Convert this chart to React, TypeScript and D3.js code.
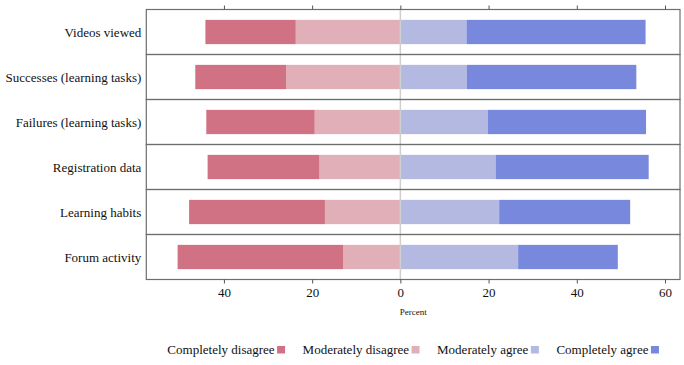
import { useEffect, useRef } from 'react';
import * as d3 from 'd3';

// Survey items, top to bottom
const categories: string[] = [
  'Videos viewed',
  'Successes (learning tasks)',
  'Failures (learning tasks)',
  'Registration data',
  'Learning habits',
  'Forum activity',
];

// Percent answering each level
const completelyDisagree: number[] = [20.5, 20.7, 24.6, 25.4, 30.8, 37.5];
const moderatelyDisagree: number[] = [23.7, 25.8, 19.4, 18.3, 17.1, 13.0];
const moderatelyAgree: number[] = [15.0, 15.1, 19.8, 21.6, 22.4, 26.7];
const completelyAgree: number[] = [40.6, 38.4, 35.9, 34.7, 29.7, 22.6];

const levelNames: string[] = ['Completely disagree', 'Moderately disagree', 'Moderately agree', 'Completely agree'];
const levelColors: string[] = ['#d17184', '#e0afb8', '#b4b9e1', '#7889dd'];

const xTicks: number[] = [-40, -20, 0, 20, 40, 60];
const xDomain: [number, number] = [-57.6, 63.4];

export default function App() {
  const svgRef = useRef<SVGSVGElement | null>(null);

  useEffect(() => {
    if (!svgRef.current) return;
    const svg = d3.select(svgRef.current);
    svg.selectAll('*').remove();

    const font = "'Liberation Serif', 'DejaVu Serif', serif";
    const left = 146.3, right = 680, top = 9.5, bottom = 279.5;

    const x = d3.scaleLinear().domain(xDomain).range([left, right]);
    const y = d3.scaleBand<string>().domain(categories).range([top, bottom]).padding(0);
    const barH = y.bandwidth() * 0.54;

    const g = svg.append('g').style('font-family', font);

    // one row per item: bars stacked outward from zero
    categories.forEach((cat, i) => {
      const y0 = (y(cat) ?? 0) + (y.bandwidth() - barH) / 2;
      const segs = [
        { a: -(moderatelyDisagree[i] + completelyDisagree[i]), b: -moderatelyDisagree[i], c: 0 },
        { a: -moderatelyDisagree[i], b: 0, c: 1 },
        { a: 0, b: moderatelyAgree[i], c: 2 },
        { a: moderatelyAgree[i], b: moderatelyAgree[i] + completelyAgree[i], c: 3 },
      ];
      g.selectAll(null)
        .data(segs)
        .enter()
        .append('rect')
        .attr('x', d => x(d.a))
        .attr('y', y0)
        .attr('width', d => x(d.b) - x(d.a))
        .attr('height', barH)
        .attr('fill', d => levelColors[d.c]);
    });

    // zero reference line
    g.append('line')
      .attr('x1', x(0)).attr('x2', x(0))
      .attr('y1', top).attr('y2', bottom)
      .attr('stroke', '#cfcfcf')
      .attr('stroke-width', 1.5);

    // panel borders
    g.selectAll(null)
      .data(categories)
      .enter()
      .append('rect')
      .attr('x', left)
      .attr('y', d => y(d) ?? 0)
      .attr('width', right - left)
      .attr('height', y.bandwidth())
      .attr('fill', 'none')
      .attr('stroke', '#6e6e6e')
      .attr('stroke-width', 1.2);

    // row labels
    g.selectAll(null)
      .data(categories)
      .enter()
      .append('text')
      .attr('x', left - 5)
      .attr('y', d => (y(d) ?? 0) + y.bandwidth() / 2)
      .attr('dy', '0.35em')
      .attr('text-anchor', 'end')
      .style('font-family', font)
      .attr('font-size', 13)
      .attr('fill', '#111')
      .text(d => d);

    // axes top and bottom
    const fmt = (d: d3.NumberValue) => String(Math.abs(+d));
    const bottomAxis = g.append('g')
      .attr('transform', `translate(0,${bottom})`)
      .call(d3.axisBottom(x).tickValues(xTicks).tickFormat(fmt).tickSize(4).tickPadding(4));
    const topAxis = g.append('g')
      .attr('transform', `translate(0,${top})`)
      .call(d3.axisTop(x).tickValues(xTicks).tickFormat(() => '').tickSize(4));
    [bottomAxis, topAxis].forEach(ax => {
      ax.attr('font-family', null);
      ax.select('.domain').remove();
      ax.selectAll('line').attr('stroke', '#555');
      ax.selectAll('text')
        .style('font-family', font)
        .attr('font-size', 13)
        .attr('fill', '#111');
    });

    // axis title
    g.append('text')
      .attr('x', (left + right) / 2)
      .attr('y', 315)
      .attr('text-anchor', 'middle')
      .style('font-family', font)
      .attr('font-size', 9)
      .attr('fill', '#111')
      .text('Percent');

    // legend: text then swatch, centered under the panel
    const legend = g.append('g');
    const items = levelNames.map((name, i) => {
      const item = legend.append('g');
      const t = item.append('text')
        .attr('x', 0)
        .attr('y', 354)
        .style('font-family', font)
        .attr('font-size', 13)
        .attr('fill', '#111')
        .text(name);
      const w = (t.node() as SVGTextElement).getComputedTextLength();
      item.append('rect')
        .attr('x', w + 2.5)
        .attr('y', 346)
        .attr('width', 8)
        .attr('height', 7.5)
        .attr('fill', levelColors[i]);
      return { item, w: w + 2.5 + 8 };
    });
    const gap = 17.5;
    const total = d3.sum(items, d => d.w) + gap * (items.length - 1);
    let cx = (left + right) / 2 - total / 2;
    items.forEach(d => {
      d.item.attr('transform', `translate(${cx},0)`);
      cx += d.w + gap;
    });

    return () => {
      svg.selectAll('*').remove();
    };
  }, []);

  return (
    <div style={{ position: 'absolute', left: 0, top: 0, width: 684, height: 365, background: '#fff' }}>
      <svg width={684} height={365} ref={svgRef} style={{ display: 'block' }}></svg>
    </div>
  );
}
